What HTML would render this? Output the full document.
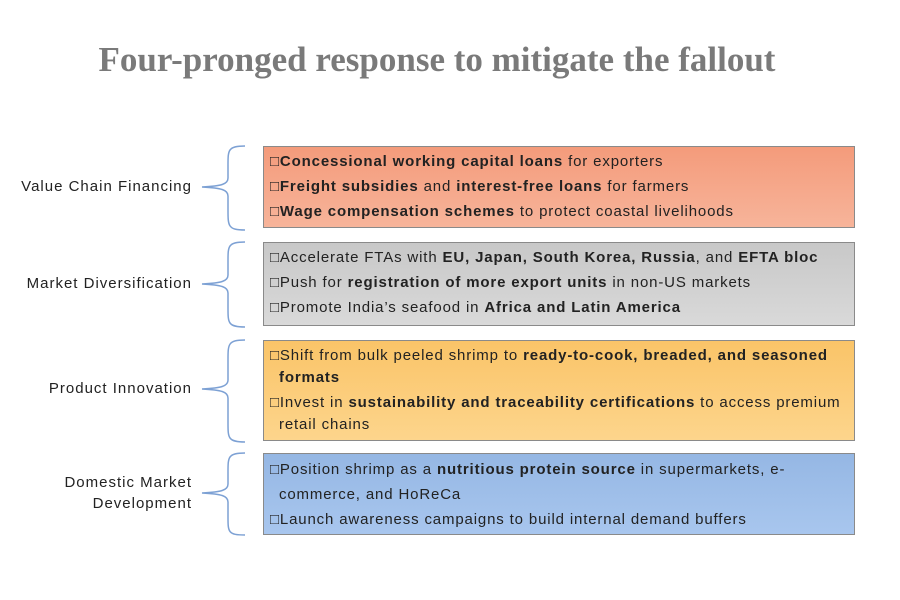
<!DOCTYPE html>
<html><head><meta charset="utf-8"><style>
body{margin:0;width:900px;height:600px;background:#fff;position:relative;font-family:"Liberation Sans",sans-serif;overflow:hidden}
.t{position:absolute;left:0;width:874px;top:40px;text-align:center;font-family:"Liberation Serif",serif;font-weight:bold;font-size:35px;color:#7a7a7a}
.box{position:absolute;left:263px;width:592px;border:1px solid #8a8a8a;box-sizing:border-box;padding:2px 0 0 6px;font-size:15px;letter-spacing:0.85px;color:#222;line-height:25px}
.box p{margin:0;padding-left:9px;text-indent:-9px}
.box.m p{line-height:22px;margin-bottom:3px}
.lab{position:absolute;font-size:15px;letter-spacing:1px;color:#222;text-align:right;width:192px;left:0;line-height:21px}
svg{position:absolute;left:0;top:0}
</style></head><body>
<div class="t">Four-pronged response to mitigate the fallout</div>
<svg width="900" height="600" fill="none" stroke="#7da1d4" stroke-width="1.5">
<path d="M245,146 C228,146 228,150 228,165 L228,178 C228,184 222,186 202,187 C222,188 228,190 228,196 L228,210 C228,226 228,230 245,230"/>
<path d="M245,242 C228,242 228,246 228,261 L228,275 C228,281 222,283 202,284 C222,285 228,287 228,293 L228,308 C228,323 228,327 245,327"/>
<path d="M245,340 C228,340 228,344 228,360 L228,380 C228,386 222,388 202,389 C222,390 228,392 228,398 L228,423 C228,438 228,442 245,442"/>
<path d="M245,453 C228,453 228,457 228,472 L228,484 C228,490 222,492 202,493 C222,494 228,496 228,502 L228,517 C228,532 228,535 245,535"/>
</svg>
<div class="lab" style="top:176px">Value Chain Financing</div>
<div class="lab" style="top:273px">Market Diversification</div>
<div class="lab" style="top:378px">Product Innovation</div>
<div class="lab" style="top:472px">Domestic Market<br>Development</div>
<div class="box" style="top:146px;height:82px;background:linear-gradient(#f49b7b,#f7b49a)">
<p>□<b>Concessional working capital loans</b> for exporters</p>
<p>□<b>Freight subsidies</b> and <b>interest-free loans</b> for farmers</p>
<p>□<b>Wage compensation schemes</b> to protect coastal livelihoods</p></div>
<div class="box" style="top:242px;height:84px;background:linear-gradient(#c8c8c8,#d9d9d9)">
<p>□Accelerate FTAs with <b>EU, Japan, South Korea, Russia</b>, and <b>EFTA bloc</b></p>
<p>□Push for <b>registration of more export units</b> in non-US markets</p>
<p>□Promote India’s seafood in <b>Africa and Latin America</b></p></div>
<div class="box m" style="top:340px;height:101px;padding-top:4px;background:linear-gradient(#fac468,#fdd58c)">
<p>□Shift from bulk peeled shrimp to <b>ready-to-cook, breaded, and seasoned formats</b></p>
<p>□Invest in <b>sustainability and traceability certifications</b> to access premium retail chains</p></div>
<div class="box" style="top:453px;height:82px;padding-top:3px;background:linear-gradient(#95b7e4,#a8c6ee)">
<p>□Position shrimp as a <b>nutritious protein source</b> in supermarkets, e-commerce, and HoReCa</p>
<p>□Launch awareness campaigns to build internal demand buffers</p></div>
</body></html>
